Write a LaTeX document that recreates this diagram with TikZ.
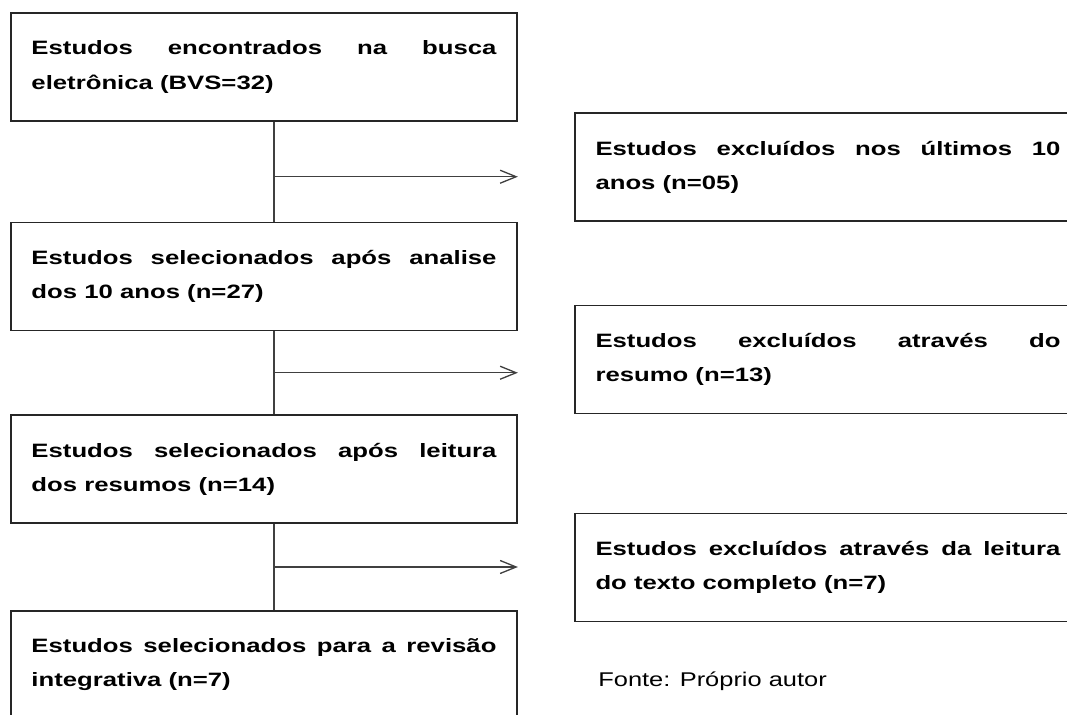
\documentclass[tikz,border=0pt]{standalone}
\usepackage{fontspec}
\setmainfont{Liberation Sans}
\newfontfamily\boxfont[FakeStretch=1.33]{Liberation Sans}
\newfontfamily\notefont[FakeStretch=1.28]{Liberation Sans}
\usetikzlibrary{arrows.meta,calc}

\hyphenpenalty=10000
\exhyphenpenalty=10000
\tolerance=9999

\tikzset{
    stage/.style={draw=black!85, line width=1pt, rectangle, align=justify,
        text width=9.3cm, inner xsep=0.41cm, minimum height=2.16cm,
        font=\boxfont\bfseries\fontsize{11}{19.4}\selectfont},
    link/.style={draw=black!75, line width=0.75pt},
    arr/.style={link, -{Straight Barb[length=3.2mm, width=2.6mm, line width=0.75pt]}}
}

\begin{document}
\begin{tikzpicture}
    \clip (0,0) rectangle (21.34,14.3);

    %Place selected studies nodes
    \node[stage] (busca) at (5.28,12.96) {Estudos encontrados na busca\linebreak eletrônica (BVS=32)};
    \node[stage] (anos) at (5.28,8.77) {Estudos selecionados após analise\linebreak dos 10 anos (n=27)};
    \node[stage] (resumos) at (5.28,4.92) {Estudos selecionados após leitura\linebreak dos resumos (n=14)};
    \node[stage] (revisao) at (5.28,1.00) {Estudos selecionados para a revisão\linebreak integrativa (n=7)};

    %Place excluded studies nodes
    \node[stage] (exc-anos) at (16.56,10.96) {Estudos excluídos nos últimos 10\linebreak anos (n=05)};
    \node[stage] (exc-resumo) at (16.56,7.11) {Estudos excluídos através do\linebreak resumo (n=13)};
    \node[stage] (exc-texto) at (16.56,2.95) {Estudos excluídos através da leitura\linebreak do texto completo (n=7)};

    %Place source note
    \node[anchor=base west, inner sep=0pt, font=\notefont\fontsize{11.3}{13}\selectfont] (fonte) at (11.96,0.56) {Fonte: Próprio autor};

    %Draw connectors
    \draw[link] ([xshift=0.2cm]busca.south) -- ([xshift=0.2cm]anos.north) coordinate[pos=0.55] (j1);
    \draw[link] ([xshift=0.2cm]anos.south) -- ([xshift=0.2cm]resumos.north) coordinate[pos=0.5] (j2);
    \draw[link] ([xshift=0.2cm]resumos.south) -- ([xshift=0.2cm]revisao.north) coordinate[pos=0.5] (j3);

    %Draw arrows
    \draw[arr] (j1) -- (j1 -| busca.east);
    \draw[arr] (j2) -- (j2 -| anos.east);
    \draw[arr] (j3) -- (j3 -| resumos.east);
\end{tikzpicture}
\end{document}
